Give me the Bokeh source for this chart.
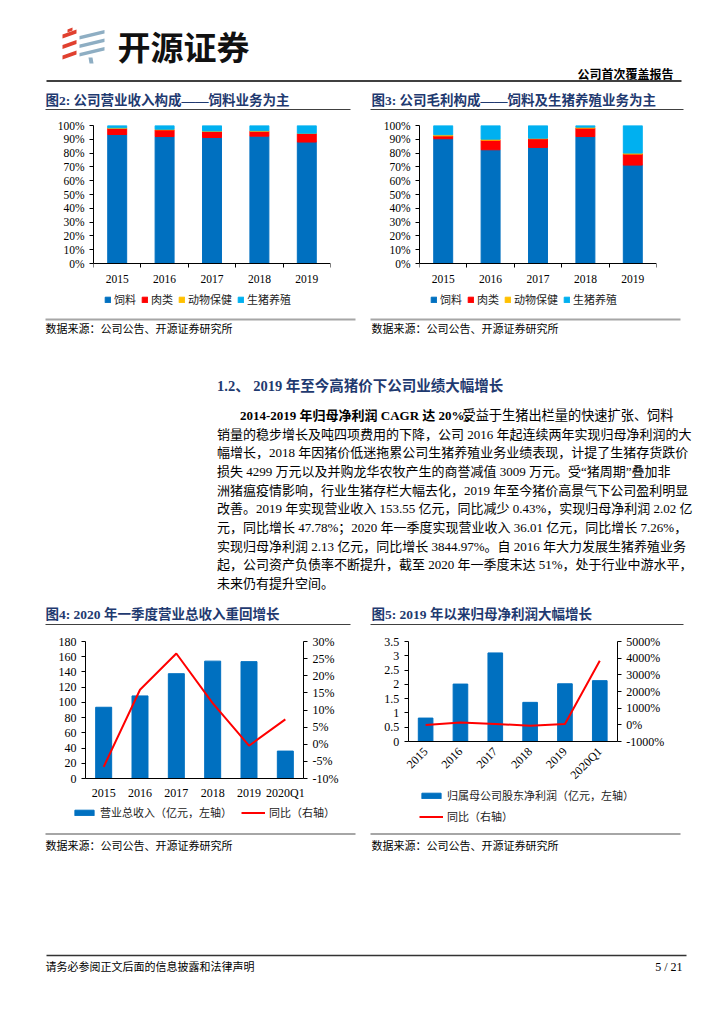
import math
from bokeh.plotting import figure
from bokeh.models import Range1d, LinearAxis, FixedTicker, ColumnDataSource
from bokeh.layouts import column, row
from bokeh.core.properties import value
from bokeh.embed import file_html
from bokeh.resources import INLINE

# ---------------- data ----------------
years = ["2015", "2016", "2017", "2018", "2019"]
segment_names = ["饲料", "肉类", "动物保健", "生猪养殖"]
segment_colors = ["#0070C0", "#FF0000", "#FFC000", "#00B0F0"]

rev_feed = [93.5, 92.0, 91.3, 92.3, 88.0]
rev_meat = [4.5, 4.9, 4.4, 3.6, 6.2]
rev_health = [0.3, 0.4, 0.3, 0.3, 0.2]
rev_hog = [1.7, 2.7, 4.0, 3.8, 5.6]

gp_feed = [90.4, 82.4, 84.1, 92.0, 71.3]
gp_meat = [2.1, 7.0, 6.3, 6.1, 8.0]
gp_health = [0.8, 0.7, 0.4, 0.7, 0.7]
gp_hog = [6.7, 9.9, 9.2, 1.2, 20.0]

pct_ticks = [0, 10, 20, 30, 40, 50, 60, 70, 80, 90, 100]
pct_labels = ["0%", "10%", "20%", "30%", "40%", "50%", "60%", "70%", "80%", "90%", "100%"]

periods = ["2015", "2016", "2017", "2018", "2019", "2020Q1"]
revenue = [93.6, 108.5, 137.7, 154.2, 153.55, 36.01]
revenue_yoy = [-6.6, 15.9, 26.5, 12.0, -0.43, 7.26]
rev_ticks = [0, 20, 40, 60, 80, 100, 120, 140, 160, 180]
rev_labels = ["0", "20", "40", "60", "80", "100", "120", "140", "160", "180"]
rev_yoy_ticks = [-10, -5, 0, 5, 10, 15, 20, 25, 30]
rev_yoy_labels = ["-10%", "-5%", "0%", "5%", "10%", "15%", "20%", "25%", "30%"]

net_profit = [0.82, 2.01, 3.10, 1.37, 2.02, 2.13]
net_profit_yoy = [-15.0, 145.0, 54.0, -56.0, 47.78, 3844.97]
np_ticks = [0, 0.5, 1, 1.5, 2, 2.5, 3, 3.5]
np_labels = ["0", "0.5", "1", "1.5", "2", "2.5", "3", "3.5"]
np_yoy_ticks = [-1000, 0, 1000, 2000, 3000, 4000, 5000]
np_yoy_labels = ["-1000%", "0%", "1000%", "2000%", "3000%", "4000%", "5000%"]

FONT = "Liberation Serif, Noto Sans CJK SC"
CJK = "Noto Sans CJK SC"
NAVY = "#1F3A70"
W = 708


# ---------------- helpers ----------------
def text_fig(top, bottom):
    p = figure(width=W, height=bottom - top, x_range=Range1d(0, W),
               y_range=Range1d(bottom, top), x_axis_type=None, y_axis_type=None,
               min_border=0, toolbar_location=None, output_backend="svg", title=None)
    p.outline_line_color = None
    p.grid.visible = False
    return p


def txt(p, x, y, s, size, bold=False, color="black", align="left", font=FONT):
    p.text(x=[x], y=[y], text=[s], text_font=value(font), text_font_size=f"{size}px",
           text_font_style="bold" if bold else "normal", text_color=color,
           text_align=align, text_baseline="middle")


def hline(p, x0, x1, y, color, width):
    p.segment(x0=[x0], y0=[y], x1=[x1], y1=[y], line_color=color, line_width=width)


def style_axis(ax, size="11.5px"):
    ax.axis_line_color = "black"
    ax.major_tick_line_color = "black"
    ax.major_tick_in = 0
    ax.major_tick_out = 4
    ax.minor_tick_line_color = None
    ax.major_label_text_font = FONT
    ax.major_label_text_font_size = size
    ax.major_label_text_color = "black"
    ax.major_label_standoff = 5


def style_legend(p, loc, orientation, gw, gh, spacing, standoff=4):
    lg = p.legend[0]
    lg.location = loc
    lg.orientation = orientation
    lg.padding = 0
    lg.margin = 0
    lg.border_line_color = None
    lg.background_fill_alpha = 0
    lg.glyph_width = gw
    lg.glyph_height = gh
    lg.label_standoff = standoff
    lg.spacing = spacing
    lg.label_height = 12
    lg.label_text_font = FONT
    lg.label_text_font_size = "11px"
    lg.label_text_color = "#222222"


def extended(lo, hi, plot_px, before_px, after_px):
    # the frame continues beyond the plotted span to hold axis labels and the legend
    k = (hi - lo) / plot_px
    return (lo - before_px * k, hi + after_px * k)


def stack_chart(left, right, feed, meat, health, hog):
    xs = list(range(len(years)))
    src = ColumnDataSource(dict(x=xs, feed=feed, meat=meat, health=health, hog=hog))
    top_b, plot_px, extra_px = 13, 138, 49
    p = figure(width=354, height=top_b + plot_px + extra_px,
               x_range=Range1d(-0.5, len(years) - 0.5),
               y_range=Range1d(*extended(0, 100, plot_px, extra_px, 0)),
               min_border_left=left, min_border_right=right,
               min_border_top=top_b, min_border_bottom=0, toolbar_location=None,
               output_backend="svg", title=None)
    p.vbar_stack(["feed", "meat", "health", "hog"], x="x", width=0.4,
                 color=segment_colors, source=src, legend_label=segment_names)
    p.grid.visible = False
    p.outline_line_color = None
    xa = p.xaxis[0]
    style_axis(xa)
    xa.fixed_location = 0
    xa.ticker = FixedTicker(ticks=xs, minor_ticks=[i - 0.5 for i in range(len(years) + 1)])
    xa.major_label_overrides = {i: y for i, y in enumerate(years)}
    xa.major_tick_line_color = None
    xa.major_tick_out = 0
    xa.minor_tick_line_color = "black"
    xa.minor_tick_in = 0
    xa.minor_tick_out = 4
    xa.major_label_standoff = 7
    ya = p.yaxis[0]
    style_axis(ya)
    ya.bounds = (0, 100)
    ya.ticker = FixedTicker(ticks=pct_ticks)
    ya.major_label_overrides = dict(zip(pct_ticks, pct_labels))
    style_legend(p, (11, 5), "horizontal", 7, 7, 5, 3)
    return p


def dual_chart(axis_left, axis_right, plot_px, extra_px, bars, bar_w, yr, yt, yl, line,
               lr, lt, ll, bar_label, rotate, legend_loc, legend_orient, legend_spacing):
    # axis_left / axis_right: positions of the two value axes inside the 354px figure
    n = len(periods)
    xs = list(range(n))
    src = ColumnDataSource(dict(x=xs, bar=bars, line=line))
    top_b = 11
    x_lo, x_hi = extended(-0.5, n - 0.5, axis_right - axis_left, axis_left, 354 - axis_right)
    p = figure(width=354, height=top_b + plot_px + extra_px,
               x_range=Range1d(x_lo, x_hi),
               y_range=Range1d(*extended(yr[0], yr[1], plot_px, extra_px, top_b)),
               min_border=0, toolbar_location=None,
               output_backend="svg", title=None)
    p.extra_y_ranges = {"pct": Range1d(*extended(lr[0], lr[1], plot_px, extra_px, top_b))}
    p.vbar(x="x", top="bar", width=bar_w, color="#0070C0", source=src, legend_label=bar_label)
    p.line(x="x", y="line", y_range_name="pct", color="#FF0000", line_width=2,
           source=src, legend_label="同比（右轴）")
    p.grid.visible = False
    p.outline_line_color = None
    xa = p.xaxis[0]
    style_axis(xa, "12px")
    xa.fixed_location = yr[0]
    xa.bounds = (-0.5, n - 0.5)
    xa.ticker = FixedTicker(ticks=xs)
    xa.major_label_overrides = {i: s for i, s in enumerate(periods)}
    xa.major_tick_line_color = None
    xa.major_tick_out = 0
    xa.major_label_standoff = 7
    if rotate:
        xa.major_label_orientation = math.pi / 4
        xa.major_label_standoff = 8
    ya = p.yaxis[0]
    style_axis(ya, "12px")
    ya.fixed_location = -0.5
    ya.bounds = yr
    ya.ticker = FixedTicker(ticks=yt)
    ya.major_label_overrides = dict(zip(yt, yl))
    ra = LinearAxis(y_range_name="pct")
    style_axis(ra, "12px")
    ra.fixed_location = n - 0.5
    ra.bounds = lr
    ra.ticker = FixedTicker(ticks=lt)
    ra.major_label_overrides = dict(zip(lt, ll))
    p.add_layout(ra, "right")
    style_legend(p, legend_loc, legend_orient, 24, 7, legend_spacing)
    return p


# ---------------- header ----------------
head = text_fig(0, 112)
red_xs, red_ys, grey_xs, grey_ys = [], [], [], []
for c in [35, 45.5, 56]:
    red_xs.append([62, 76, 76, 62])
    red_ys.append([c + 3, c - 2, c - 6, c - 1])
for c in [37, 45.5, 54]:
    grey_xs.append([79, 104, 104, 79])
    grey_ys.append([c + 2, c - 4, c - 7.5, c - 1.5])
head.patches(red_xs + [[67, 72, 72, 67]], red_ys + [[29, 27, 30, 32]], fill_color="#E0402F", line_color=None)
head.patches(grey_xs + [[88, 92, 93, 89]], grey_ys + [[57, 57, 63, 63]], fill_color="#8EAEC3", line_color=None)
txt(head, 117, 45.5, "开源证券", 33, bold=True, font=CJK, color="#111111")
txt(head, 673, 74.5, "公司首次覆盖报告", 12, bold=True, align="right")
hline(head, 46, 681, 80.5, "black", 1.5)
txt(head, 45, 99.5, "图2:  公司营业收入构成——饲料业务为主", 13.5, bold=True, color=NAVY)
txt(head, 371, 99.5, "图3:  公司毛利构成——饲料及生猪养殖业务为主", 13.5, bold=True, color=NAVY)
hline(head, 45, 350, 109, "#404040", 1)
hline(head, 370, 683, 109, "#404040", 1)

# ---------------- charts row 1 ----------------
c2 = stack_chart(93, 24, rev_feed, rev_meat, rev_health, rev_hog)
c3 = stack_chart(65, 52, gp_feed, gp_meat, gp_health, gp_hog)

# ---------------- middle text ----------------
mid = text_fig(312, 630)
hline(mid, 45, 355, 319, "#A6A6A6", 2)
hline(mid, 370, 680, 319, "#A6A6A6", 2)
txt(mid, 45, 328.5, "数据来源：公司公告、开源证券研究所", 11)
txt(mid, 371, 328.5, "数据来源：公司公告、开源证券研究所", 11)
txt(mid, 216.5, 385, "1.2、 2019 年至今高猪价下公司业绩大幅增长", 14.5, bold=True, color=NAVY)

para_first_bold = "2014-2019 年归母净利润 CAGR 达 20%。"
para_first_rest = "受益于生猪出栏量的快速扩张、饲料"
para_lines = [
    "销量的稳步增长及吨四项费用的下降，公司 2016 年起连续两年实现归母净利润的大",
    "幅增长，2018 年因猪价低迷拖累公司生猪养殖业务业绩表现，计提了生猪存货跌价",
    "损失 4299 万元以及并购龙华农牧产生的商誉减值 3009 万元。受“猪周期”叠加非",
    "洲猪瘟疫情影响，行业生猪存栏大幅去化，2019 年至今猪价高景气下公司盈利明显",
    "改善。2019 年实现营业收入 153.55 亿元，同比减少 0.43%，实现归母净利润 2.02 亿",
    "元，同比增长 47.78%；2020 年一季度实现营业收入 36.01 亿元，同比增长 7.26%，",
    "实现归母净利润 2.13 亿元，同比增长 3844.97%。自 2016 年大力发展生猪养殖业务",
    "起，公司资产负债率不断提升，截至 2020 年一季度末达 51%，处于行业中游水平，",
    "未来仍有提升空间。",
]
txt(mid, 239.5, 415, para_first_bold, 13, bold=True)
txt(mid, 462, 415, para_first_rest, 13.2)
for i, line in enumerate(para_lines):
    txt(mid, 216.5, 415 + (i + 1) * 18.67, line, 13)

txt(mid, 45, 614, "图4:  2020 年一季度营业总收入重回增长", 13.5, bold=True, color=NAVY)
txt(mid, 371, 614, "图5:  2019 年以来归母净利润大幅增长", 13.5, bold=True, color=NAVY)
hline(mid, 45, 350, 624, "#404040", 1)
hline(mid, 370, 683, 624, "#404040", 1)

# ---------------- charts row 2 ----------------
c4 = dual_chart(85, 303, 137, 48, revenue, 0.44, (0, 180), rev_ticks, rev_labels,
                revenue_yoy, (-10, 30), rev_yoy_ticks, rev_yoy_labels,
                "营业总收入（亿元，左轴）", False, (72, 6), "horizontal", 9)
c5 = dual_chart(53.7, 262.7, 100, 85, net_profit, 0.42, (0, 3.5), np_ticks, np_labels,
                net_profit_yoy, (-1000, 5000), np_yoy_ticks, np_yoy_labels,
                "归属母公司股东净利润（亿元，左轴）", True, (65, 2), "vertical", 5)

# ---------------- footer ----------------
foot = text_fig(826, 1008)
hline(foot, 45, 355, 833.5, "#A6A6A6", 2)
hline(foot, 370, 680, 833.5, "#A6A6A6", 2)
txt(foot, 45, 845, "数据来源：公司公告、开源证券研究所", 11)
txt(foot, 371, 845, "数据来源：公司公告、开源证券研究所", 11)
hline(foot, 46, 686, 955, "#333333", 1.5)
txt(foot, 45, 966, "请务必参阅正文后面的信息披露和法律声明", 11)
txt(foot, 682, 966, "5 / 21", 12, align="right")

page = column(head, row(c2, c3, spacing=0), mid, row(c4, c5, spacing=0), foot, spacing=0)
open("out.html", "w").write(file_html(page, INLINE))
